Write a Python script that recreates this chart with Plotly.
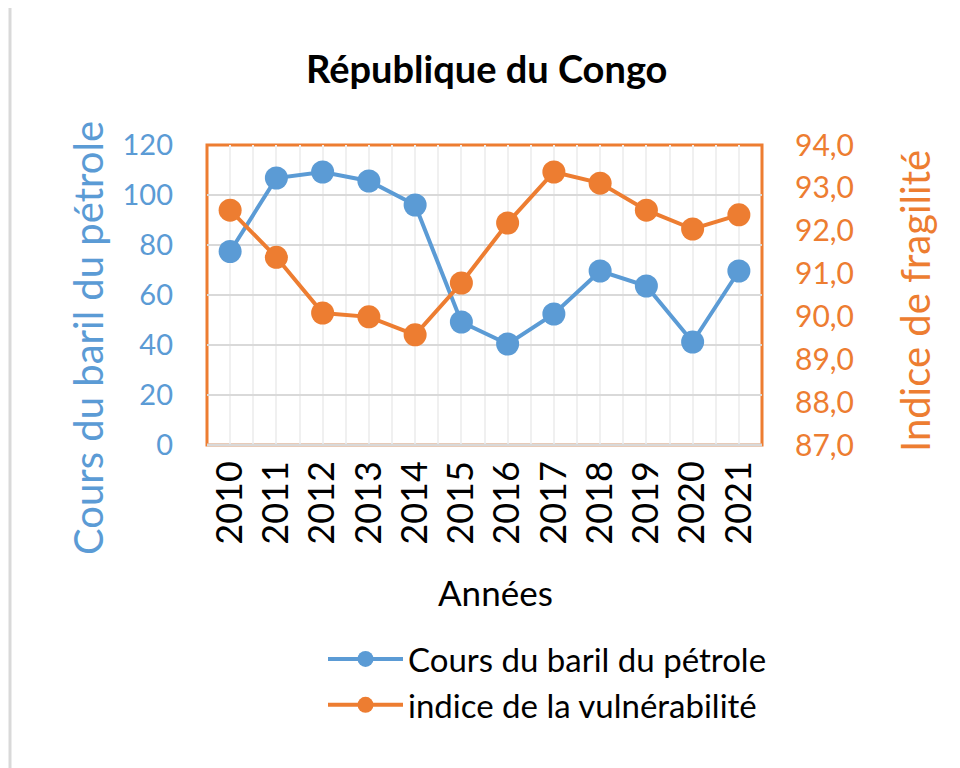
import plotly.graph_objects as go

years = [2010, 2011, 2012, 2013, 2014, 2015, 2016, 2017, 2018, 2019, 2020, 2021]
oil_price = [77.4, 106.8, 109.2, 105.6, 96.0, 49.2, 40.4, 52.4, 69.6, 63.6, 41.2, 69.6]
fragility = [92.48, 91.38, 90.08, 89.99, 89.57, 90.78, 92.18, 93.37, 93.11, 92.48, 92.04, 92.37]

BLUE = "#5b9bd5"
ORANGE = "#ed7d31"
FONT = "Lato, 'Open Sans', sans-serif"

# page offset (body margin) compensation
OFF = 8
L, R, T, B = 207 - OFF, 762 - OFF, 145 - OFF, 445 - OFF   # plot area in figure px
W, H = 960, 768
PW, PH = R - L, B - T

def px(x):
    return (x - OFF - L) / PW

def py(y):
    return (B - (y - OFF)) / PH

fig = go.Figure()
fig.add_trace(go.Scatter(
    x=years, y=oil_price, name="Cours du baril du pétrole",
    mode="lines+markers", line=dict(color=BLUE, width=4),
    marker=dict(color=BLUE, size=23), yaxis="y"))
fig.add_trace(go.Scatter(
    x=years, y=fragility, name="indice de la vulnérabilité",
    mode="lines+markers", line=dict(color=ORANGE, width=4),
    marker=dict(color=ORANGE, size=23), yaxis="y2"))

fig.update_layout(
    width=W, height=H,
    margin=dict(l=L, r=W - R, t=T, b=H - B, autoexpand=False),
    paper_bgcolor="white", plot_bgcolor="white",
    separators=", ",
    font=dict(family=FONT, color="black"),
    showlegend=True,
    legend=dict(x=px(323), y=py(631), xanchor="left", yanchor="top",
                font=dict(size=33, color="black"), itemwidth=75,
                bgcolor="rgba(0,0,0,0)", tracegroupgap=0),
    xaxis=dict(range=[2009.5, 2021.5], tickmode="array", tickvals=years,
               ticktext=[str(y) for y in years], tickangle=-90,
               tickfont=dict(size=36, color="black"),
               showgrid=True, gridcolor="#f0f0f0", gridwidth=1.5,
               minor=dict(dtick=0.5, tick0=2009.5, showgrid=True, gridcolor="#f0f0f0", gridwidth=1.5),
               zeroline=False, showline=False, ticks="", ticklabelstandoff=8,
               automargin=False),
    yaxis=dict(range=[0, 120], dtick=20, tickfont=dict(size=29, color=BLUE),
               showgrid=True, gridcolor="#d9d9d9", gridwidth=2,
               zeroline=False, showline=False, ticks="", ticklabelstandoff=33,
               automargin=False),
    yaxis2=dict(range=[87, 94], dtick=1, tickformat=".1f", overlaying="y", side="right",
                tickfont=dict(size=30, color=ORANGE), showgrid=False,
                zeroline=False, showline=False, ticks="", ticklabelstandoff=32,
                automargin=False),
    annotations=[
        dict(text="<b>République du Congo</b>", x=px(486), xref="paper", xanchor="center",
             y=py(68), yref="paper", yanchor="middle", showarrow=False,
             font=dict(size=38, color="black")),
        dict(text="Années", x=px(495), xref="paper", xanchor="center", y=py(592), yref="paper",
             yanchor="middle", showarrow=False, font=dict(size=35, color="black")),
        dict(text="Cours du baril du pétrole", textangle=-90, x=px(88), xref="paper",
             xanchor="center", y=py(338), yref="paper", yanchor="middle",
             showarrow=False, font=dict(size=40, color=BLUE)),
        dict(text="Indice de fragilité", textangle=-90, x=px(915), xref="paper",
             xanchor="center", y=py(301), yref="paper", yanchor="middle",
             showarrow=False, font=dict(size=40, color=ORANGE)),
    ],
    shapes=[
        dict(type="rect", xref="paper", yref="paper", x0=0, x1=1, y0=0, y1=1,
             line=dict(color=ORANGE, width=3), layer="below"),
        dict(type="line", xref="paper", yref="paper", x0=0, x1=1, y0=0, y1=0,
             line=dict(color="#d9d9d9", width=3)),
        dict(type="line", xref="paper", yref="paper", x0=px(10), x1=px(10), y0=py(4), y1=py(768),
             line=dict(color="#d9d9d9", width=3)),
        dict(type="line", xref="paper", yref="paper", x0=px(10), x1=px(960), y0=py(4), y1=py(4),
             line=dict(color="#f0f0f0", width=1.5)),
    ],
)

fig.write_html("out.html")
